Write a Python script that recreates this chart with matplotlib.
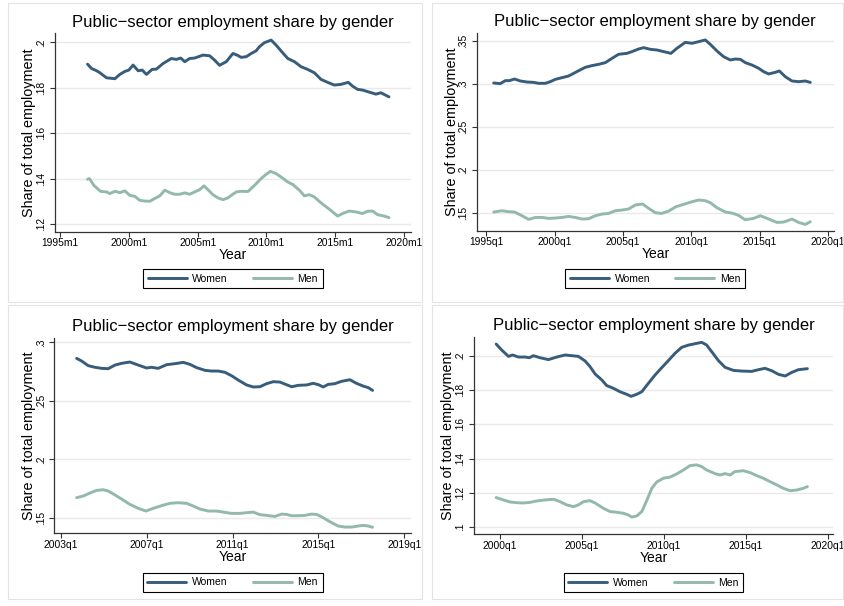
import matplotlib
matplotlib.use("Agg")
import matplotlib.pyplot as plt
from matplotlib.patches import Rectangle

plt.rcParams["font.family"] = ["Liberation Sans", "DejaVu Sans"]

WOMEN_COLOR = "#385d7b"
MEN_COLOR = "#93b8ae"
TITLE = "Public\u2212sector employment share by gender"

# ---- panel 1: monthly, 1997m1-2018m12 ----
p1_w_x = [1997.0, 1997.29, 1997.66, 1997.9, 1998.38, 1998.99, 1999.35, 1999.71, 2000.0, 2000.31,
          2000.68, 2000.97, 2001.28, 2001.69, 2002.0, 2002.49, 2003.09, 2003.45, 2003.77, 2004.06,
          2004.42, 2004.78, 2005.39, 2005.87, 2006.23, 2006.59, 2007.08, 2007.56, 2007.87, 2008.16,
          2008.53, 2008.89, 2009.25, 2009.49, 2009.86, 2010.34, 2010.7, 2011.18, 2011.55, 2012.03,
          2012.51, 2012.99, 2013.48, 2013.96, 2014.44, 2014.93, 2015.41, 2015.94, 2016.26, 2016.62,
          2016.98, 2017.46, 2017.95, 2018.31, 2018.9]
p1_w_y = [0.1904, 0.1885, 0.1875, 0.1866, 0.1844, 0.184, 0.1859, 0.1872, 0.1878, 0.19,
          0.1875, 0.1878, 0.1859, 0.1881, 0.1882, 0.1907, 0.1929, 0.1925, 0.1931, 0.1915,
          0.1929, 0.1931, 0.1944, 0.1941, 0.1922, 0.1899, 0.1915, 0.1951, 0.1944, 0.1934,
          0.1937, 0.1951, 0.1963, 0.1981, 0.1999, 0.201, 0.1988, 0.1954, 0.1929, 0.1915,
          0.1893, 0.1881, 0.1866, 0.1837, 0.1824, 0.1812, 0.1815, 0.1824, 0.1807, 0.1793,
          0.179, 0.1781, 0.1772, 0.1778, 0.176]
p1_m_x = [1997.0, 1997.14, 1997.46, 1997.94, 1998.38, 1998.62, 1998.99, 1999.35, 1999.71, 2000.07,
          2000.43, 2000.8, 2001.16, 2001.52, 2001.88, 2002.25, 2002.61, 2002.97, 2003.33, 2003.7,
          2004.06, 2004.42, 2004.78, 2005.14, 2005.46, 2005.75, 2006.11, 2006.47, 2006.84, 2007.2,
          2007.56, 2007.8, 2008.16, 2008.65, 2009.13, 2009.61, 2009.98, 2010.29, 2010.7, 2011.06,
          2011.55, 2011.91, 2012.39, 2012.75, 2013.12, 2013.48, 2013.96, 2014.44, 2014.81, 2015.17,
          2015.53, 2016.01, 2016.5, 2016.98, 2017.34, 2017.71, 2018.07, 2018.55, 2018.9]
p1_m_y = [0.1397, 0.14, 0.137, 0.1344, 0.1341, 0.1334, 0.1344, 0.1338, 0.1346, 0.1326,
          0.1322, 0.1304, 0.1301, 0.13, 0.1312, 0.1324, 0.1349, 0.1338, 0.1331, 0.1331,
          0.1337, 0.1331, 0.1341, 0.1351, 0.1368, 0.1351, 0.1329, 0.1315, 0.1307, 0.1315,
          0.1331, 0.1341, 0.1344, 0.1343, 0.137, 0.14, 0.1419, 0.1432, 0.1422, 0.1407,
          0.1385, 0.1374, 0.1349, 0.1324, 0.1329, 0.1319, 0.1293, 0.1271, 0.1253, 0.1235,
          0.1246, 0.1257, 0.1253, 0.1246, 0.1256, 0.1257, 0.1241, 0.1235, 0.1228]

# ---- panel 2: quarterly, 1995q3-2018q3 ----
p2_w_x = [1995.54, 1996.02, 1996.39, 1996.68, 1997.07, 1997.49, 1997.98, 1998.46, 1998.83, 1999.32,
          1999.68, 2000.05, 2000.54, 2001.02, 2001.39, 2001.76, 2002.24, 2002.73, 2003.22, 2003.71,
          2004.2, 2004.68, 2005.29, 2005.66, 2006.15, 2006.51, 2007.0, 2007.49, 2007.98, 2008.51,
          2008.95, 2009.56, 2010.05, 2010.54, 2011.02, 2011.39, 2011.88, 2012.37, 2012.85, 2013.22,
          2013.59, 2013.95, 2014.44, 2014.93, 2015.29, 2015.66, 2016.15, 2016.44, 2016.88, 2017.37,
          2017.85, 2018.34, 2018.71]
p2_w_y = [0.3011, 0.3003, 0.3038, 0.3038, 0.3057, 0.3034, 0.3022, 0.3018, 0.3007, 0.3007,
          0.3026, 0.3053, 0.3073, 0.3092, 0.3123, 0.3154, 0.3193, 0.3213, 0.3228, 0.3248,
          0.3298, 0.3345, 0.3356, 0.3376, 0.3407, 0.3422, 0.3403, 0.3395, 0.3376, 0.3356,
          0.3415, 0.3484, 0.3473, 0.3492, 0.3512, 0.3461, 0.3383, 0.3317, 0.3279, 0.329,
          0.3286, 0.3248, 0.322, 0.3182, 0.3143, 0.3116, 0.3135, 0.3151, 0.3084, 0.3034,
          0.3026, 0.3034, 0.3018]
p2_m_x = [1995.54, 1996.15, 1996.63, 1997.07, 1997.61, 1998.1, 1998.59, 1999.07, 1999.56, 2000.05,
          2000.54, 2001.02, 2001.51, 2002.0, 2002.49, 2002.98, 2003.46, 2003.95, 2004.44, 2004.93,
          2005.41, 2005.9, 2006.44, 2006.88, 2007.37, 2007.85, 2008.34, 2008.88, 2009.44, 2010.05,
          2010.54, 2011.02, 2011.39, 2011.88, 2012.49, 2012.98, 2013.46, 2013.95, 2014.56, 2015.05,
          2015.54, 2016.27, 2016.76, 2017.37, 2017.85, 2018.34, 2018.71]
p2_m_y = [0.1508, 0.1523, 0.1512, 0.1508, 0.1465, 0.1422, 0.1445, 0.1445, 0.1434, 0.1438,
          0.1445, 0.1457, 0.1445, 0.1426, 0.143, 0.1465, 0.1484, 0.1492, 0.1523, 0.1531,
          0.1543, 0.159, 0.1601, 0.1551, 0.15, 0.1492, 0.1519, 0.157, 0.1597, 0.1628,
          0.1648, 0.164, 0.1617, 0.1558, 0.1508, 0.1496, 0.1469, 0.1418, 0.1434, 0.1465,
          0.1434, 0.1387, 0.1391, 0.1426, 0.1387, 0.1364, 0.1395]

# ---- panel 3: quarterly, 2003q4-2017q3 ----
p3_w_x = [2003.73, 2003.96, 2004.27, 2004.58, 2004.89, 2005.2, 2005.52, 2005.83, 2006.21, 2006.6,
          2006.99, 2007.22, 2007.53, 2007.92, 2008.31, 2008.7, 2009.01, 2009.32, 2009.71, 2010.02,
          2010.33, 2010.64, 2010.95, 2011.26, 2011.65, 2011.96, 2012.27, 2012.58, 2012.89, 2013.2,
          2013.43, 2013.75, 2014.06, 2014.44, 2014.75, 2014.99, 2015.22, 2015.45, 2015.76, 2016.07,
          2016.46, 2016.77, 2017.08, 2017.32, 2017.52]
p3_w_y = [0.2863, 0.2841, 0.2801, 0.2787, 0.2778, 0.2775, 0.2806, 0.2821, 0.2832, 0.2806,
          0.2781, 0.2787, 0.2778, 0.2809, 0.2818, 0.2829, 0.2812, 0.2784, 0.2761, 0.2755,
          0.2755, 0.2744, 0.2715, 0.2678, 0.2636, 0.2619, 0.2621, 0.2647, 0.2664, 0.2661,
          0.2644, 0.2621, 0.2633, 0.2636, 0.265, 0.2639, 0.2619, 0.2641, 0.2647, 0.2667,
          0.2681, 0.265, 0.2627, 0.2613, 0.259]
p3_m_x = [2003.73, 2004.04, 2004.35, 2004.66, 2004.97, 2005.2, 2005.52, 2005.83, 2006.21, 2006.6,
          2006.96, 2007.3, 2007.69, 2008.08, 2008.47, 2008.85, 2009.16, 2009.48, 2009.86, 2010.25,
          2010.56, 2010.95, 2011.34, 2011.65, 2011.96, 2012.27, 2012.58, 2012.97, 2013.28, 2013.51,
          2013.75, 2014.06, 2014.37, 2014.68, 2014.92, 2015.16, 2015.53, 2015.92, 2016.23, 2016.54,
          2016.85, 2017.08, 2017.32, 2017.52]
p3_m_y = [0.1674, 0.1688, 0.1714, 0.1736, 0.1742, 0.1731, 0.1697, 0.1662, 0.1617, 0.1583,
          0.156, 0.1583, 0.1606, 0.1626, 0.1631, 0.1626, 0.1603, 0.1577, 0.156, 0.156,
          0.1551, 0.154, 0.154, 0.1546, 0.1551, 0.1529, 0.1523, 0.1514, 0.1534, 0.1531,
          0.152, 0.152, 0.1523, 0.1534, 0.1531, 0.1509, 0.1469, 0.1432, 0.1423, 0.1423,
          0.1432, 0.1438, 0.1432, 0.1421]

# ---- panel 4: quarterly, 1999q4-2018q4 ----
p4_w_x = [1999.76, 2000.1, 2000.51, 2000.77, 2001.12, 2001.53, 2001.79, 2002.03, 2002.44, 2002.95,
          2003.46, 2003.97, 2004.37, 2004.78, 2005.19, 2005.49, 2005.8, 2006.21, 2006.51, 2006.92,
          2007.32, 2007.73, 2008.0, 2008.34, 2008.65, 2009.05, 2009.46, 2009.87, 2010.27, 2010.68,
          2011.09, 2011.5, 2011.9, 2012.31, 2012.61, 2012.92, 2013.33, 2013.73, 2014.24, 2014.75,
          2015.36, 2015.77, 2016.17, 2016.58, 2016.99, 2017.4, 2017.8, 2018.21, 2018.76]
p4_w_y = [0.207, 0.2035, 0.1998, 0.2006, 0.1994, 0.1994, 0.199, 0.2002, 0.199, 0.1979,
          0.1994, 0.2006, 0.2002, 0.1998, 0.1971, 0.1938, 0.1895, 0.186, 0.1827, 0.1811,
          0.1791, 0.1776, 0.1764, 0.1776, 0.1791, 0.184, 0.1889, 0.1932, 0.1973, 0.2016,
          0.2051, 0.2064, 0.2072, 0.208, 0.2064, 0.2025, 0.1973, 0.1934, 0.1916, 0.1912,
          0.191, 0.192, 0.1928, 0.1914, 0.1893, 0.1883, 0.1904, 0.192, 0.1926]
p4_m_x = [1999.76, 2000.2, 2000.61, 2001.02, 2001.42, 2001.83, 2002.24, 2002.75, 2003.26, 2003.66,
          2004.07, 2004.48, 2004.78, 2005.09, 2005.49, 2005.8, 2006.31, 2006.71, 2007.12, 2007.53,
          2007.83, 2008.04, 2008.34, 2008.65, 2008.95, 2009.26, 2009.56, 2009.97, 2010.38, 2010.78,
          2011.19, 2011.6, 2012.0, 2012.31, 2012.61, 2013.12, 2013.43, 2013.73, 2014.04, 2014.34,
          2014.85, 2015.26, 2015.67, 2016.07, 2016.48, 2016.89, 2017.29, 2017.7, 2018.11, 2018.51,
          2018.76]
p4_m_y = [0.1172, 0.1158, 0.1146, 0.1142, 0.114, 0.1144, 0.1152, 0.1158, 0.1162, 0.1148,
          0.1129, 0.1119, 0.1129, 0.1148, 0.1154, 0.114, 0.1109, 0.109, 0.1086, 0.108,
          0.107, 0.1058, 0.1064, 0.109, 0.1154, 0.1226, 0.1263, 0.1285, 0.1292, 0.131,
          0.1333, 0.1359, 0.1363, 0.1353, 0.1333, 0.1312, 0.1304, 0.1312, 0.1304, 0.1324,
          0.1329, 0.1318, 0.13, 0.1285, 0.1265, 0.1246, 0.1226, 0.1212, 0.1216, 0.1226,
          0.1236]

# axis ticks per panel
p1_xticks = [1995, 2000, 2005, 2010, 2015, 2020]
p1_xlabels = ["1995m1", "2000m1", "2005m1", "2010m1", "2015m1", "2020m1"]
p1_yticks = [0.12, 0.14, 0.16, 0.18, 0.20]
p1_ylabels = [".12", ".14", ".16", ".18", ".2"]

p2_xticks = [1995, 2000, 2005, 2010, 2015, 2020]
p2_xlabels = ["1995q1", "2000q1", "2005q1", "2010q1", "2015q1", "2020q1"]
p2_yticks = [0.15, 0.20, 0.25, 0.30, 0.35]
p2_ylabels = [".15", ".2", ".25", ".3", ".35"]

p3_xticks = [2003, 2007, 2011, 2015, 2019]
p3_xlabels = ["2003q1", "2007q1", "2011q1", "2015q1", "2019q1"]
p3_yticks = [0.15, 0.20, 0.25, 0.30]
p3_ylabels = [".15", ".2", ".25", ".3"]

p4_xticks = [2000, 2005, 2010, 2015, 2020]
p4_xlabels = ["2000q1", "2005q1", "2010q1", "2015q1", "2020q1"]
p4_yticks = [0.10, 0.12, 0.14, 0.16, 0.18, 0.20]
p4_ylabels = [".1", ".12", ".14", ".16", ".18", ".2"]

W, H = 845, 606
fig = plt.figure(figsize=(W / 100, H / 100), dpi=100)
fig.patch.set_facecolor("white")


def px_box(left, right, top, bottom):
    return [left / W, 1 - bottom / H, (right - left) / W, (bottom - top) / H]


# light grey frames around each graph region
for (l, t, r, b) in [(8, 3, 422, 302), (432, 3, 843, 302), (8, 305, 422, 599), (432, 305, 843, 599)]:
    fig.patches.append(Rectangle((l / W, 1 - b / H), (r - l) / W, (b - t) / H,
                                 transform=fig.transFigure, fill=False,
                                 edgecolor="#e3e3e3", linewidth=0.8))

panels = [
    (px_box(54.5, 411, 33.3, 231.7), (1994.6, 2020.5), (0.1166, 0.204),
     p1_w_x, p1_w_y, p1_m_x, p1_m_y, p1_xticks, p1_xlabels, p1_yticks, p1_ylabels, 269),
    (px_box(477, 833.7, 33, 231), (1994.32, 2020.42), (0.1287, 0.3593),
     p2_w_x, p2_w_y, p2_m_x, p2_m_y, p2_xticks, p2_xlabels, p2_yticks, p2_ylabels, 269),
    (px_box(54.3, 411, 338, 533.3), (2002.69, 2019.31), (0.137, 0.3037),
     p3_w_x, p3_w_y, p3_m_x, p3_m_y, p3_xticks, p3_xlabels, p3_yticks, p3_ylabels, 572.7),
    (px_box(473.7, 833.3, 336.7, 534.3), (1998.39, 2020.34), (0.0957, 0.2113),
     p4_w_x, p4_w_y, p4_m_x, p4_m_y, p4_xticks, p4_xlabels, p4_yticks, p4_ylabels, 573),
]

for (box, xlim, ylim, wx, wy, mx, my, xt, xl, yt, yl, leg_top) in panels:
    ax = fig.add_axes(box)
    ax.plot(wx, wy, color=WOMEN_COLOR, linewidth=2.1, label="Women", solid_capstyle="round")
    ax.plot(mx, my, color=MEN_COLOR, linewidth=2.1, label="Men", solid_capstyle="round")
    ax.set_xlim(*xlim)
    ax.set_ylim(*ylim)
    ax.set_xticks(xt)
    ax.set_xticklabels(xl)
    ax.set_yticks(yt)
    ax.set_yticklabels(yl, rotation=90, va="center")
    ax.grid(axis="y", color="#eaeaea", linewidth=1.0)
    ax.set_axisbelow(True)
    for side in ("top", "right"):
        ax.spines[side].set_visible(False)
    for side in ("left", "bottom"):
        ax.spines[side].set_color("#333333")
        ax.spines[side].set_linewidth(0.9)
    ax.tick_params(axis="both", labelsize=7.4, length=3.6, width=0.8, color="#333333")
    ax.tick_params(axis="x", pad=1)
    ax.tick_params(axis="y", pad=2.5)
    ax.set_xlabel("Year", fontsize=10, labelpad=0)
    ax.set_ylabel("Share of total employment", fontsize=10.4, labelpad=0)
    ax.annotate(TITLE, xy=(0.5, 1), xycoords="axes fraction", xytext=(0, 8),
                textcoords="offset points", ha="center", va="center", fontsize=12)
    cx = box[0] + box[2] / 2
    leg = ax.legend(loc="upper center", bbox_to_anchor=(cx, 1 - leg_top / H),
                    bbox_transform=fig.transFigure, ncol=2, fontsize=7.5,
                    frameon=True, fancybox=False, edgecolor="black", framealpha=1,
                    handlelength=3.75, handletextpad=0.55, columnspacing=2.4,
                    borderpad=0.45, borderaxespad=0)
    leg.get_frame().set_linewidth(0.8)

fig.savefig("out.png", dpi=100, facecolor="white")
